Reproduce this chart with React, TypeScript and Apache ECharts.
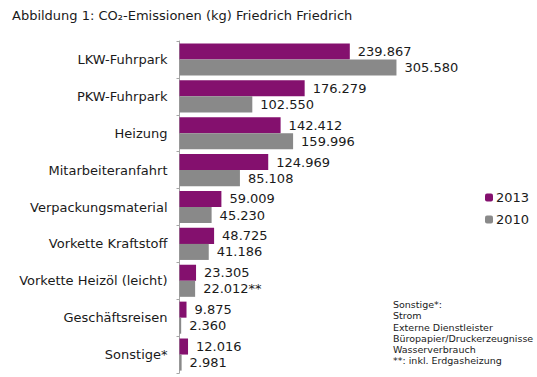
import React, { useEffect, useRef } from "react";
import * as echarts from "echarts";

const categories = [
  "LKW-Fuhrpark",
  "PKW-Fuhrpark",
  "Heizung",
  "Mitarbeiteranfahrt",
  "Verpackungsmaterial",
  "Vorkette Kraftstoff",
  "Vorkette Heizöl (leicht)",
  "Geschäftsreisen",
  "Sonstige*",
];
const values2013 = [239.867, 176.279, 142.412, 124.969, 59.009, 48.725, 23.305, 9.875, 12.016];
const values2010 = [305.58, 102.55, 159.996, 85.108, 45.23, 41.186, 22.012, 2.36, 2.981];
const labelSuffix2010 = ["", "", "", "", "", "", "**", "", ""];
const seriesNames = ["2013", "2010"];
const noteLines = [
  "Sonstige*:",
  "Strom",
  "Externe Dienstleister",
  "Büropapier/Druckerzeugnisse",
  "Wasserverbrauch",
  "**: inkl. Erdgasheizung",
];

const FONT = "DejaVu Sans, Verdana, sans-serif";
const fmt = (v: number) => v.toFixed(3);

export default function App() {
  const ref = useRef<HTMLDivElement>(null);
  useEffect(() => {
    const chart = echarts.init(ref.current!, null, { renderer: "svg" });
    chart.setOption({
      animation: false,
      backgroundColor: "#ffffff",
      textStyle: { fontFamily: FONT },
      title: {
        text: "Abbildung 1: CO₂-Emissionen (kg) Friedrich Friedrich",
        left: 7,
        top: 4,
        textStyle: { fontFamily: FONT, fontSize: 13, fontWeight: "normal", color: "#1a1a1a" },
      },
      legend: {
        orient: "vertical",
        left: 480,
        top: 186,
        itemWidth: 8,
        itemHeight: 8,
        itemGap: 9,
        textStyle: { fontFamily: FONT, fontSize: 13, color: "#1a1a1a", padding: [0, 0, 0, -2] },
        data: seriesNames,
      },
      grid: { left: 179.5, top: 41, width: 284, height: 332, containLabel: false },
      xAxis: {
        type: "value",
        min: 0,
        max: 400,
        show: false,
      },
      yAxis: {
        type: "category",
        inverse: true,
        data: categories,
        axisLine: { show: true, lineStyle: { color: "#a6a6a6", width: 1 } },
        axisTick: { show: true, length: 3, lineStyle: { color: "#a6a6a6" } },
        axisLabel: { fontFamily: FONT, fontSize: 13, color: "#1a1a1a", margin: 12 },
      },
      series: [
        {
          name: seriesNames[0],
          type: "bar",
          data: values2013,
          barGap: "0%",
          barCategoryGap: "13%",
          itemStyle: { color: "#84106e" },
          label: {
            show: true,
            position: "right",
            distance: 8,
            fontFamily: FONT,
            fontSize: 13,
            color: "#1a1a1a",
            formatter: (p: any) => fmt(p.value),
          },
        },
        {
          name: seriesNames[1],
          type: "bar",
          data: values2010,
          itemStyle: { color: "#898989" },
          label: {
            show: true,
            position: "right",
            distance: 8,
            fontFamily: FONT,
            fontSize: 13,
            color: "#1a1a1a",
            formatter: (p: any) => fmt(p.value) + labelSuffix2010[p.dataIndex],
          },
        },
      ],
      graphic: [
        {
          type: "text",
          left: 393,
          top: 299,
          style: {
            text: noteLines.join("\n"),
            fontFamily: FONT,
            fontSize: 9.5,
            lineHeight: 11.2,
            fill: "#1a1a1a",
          },
        },
      ],
    });
    return () => chart.dispose();
  }, []);
  return <div ref={ref} style={{ width: 537, height: 377, position: "absolute", left: 0, top: 0 }} />;
}
